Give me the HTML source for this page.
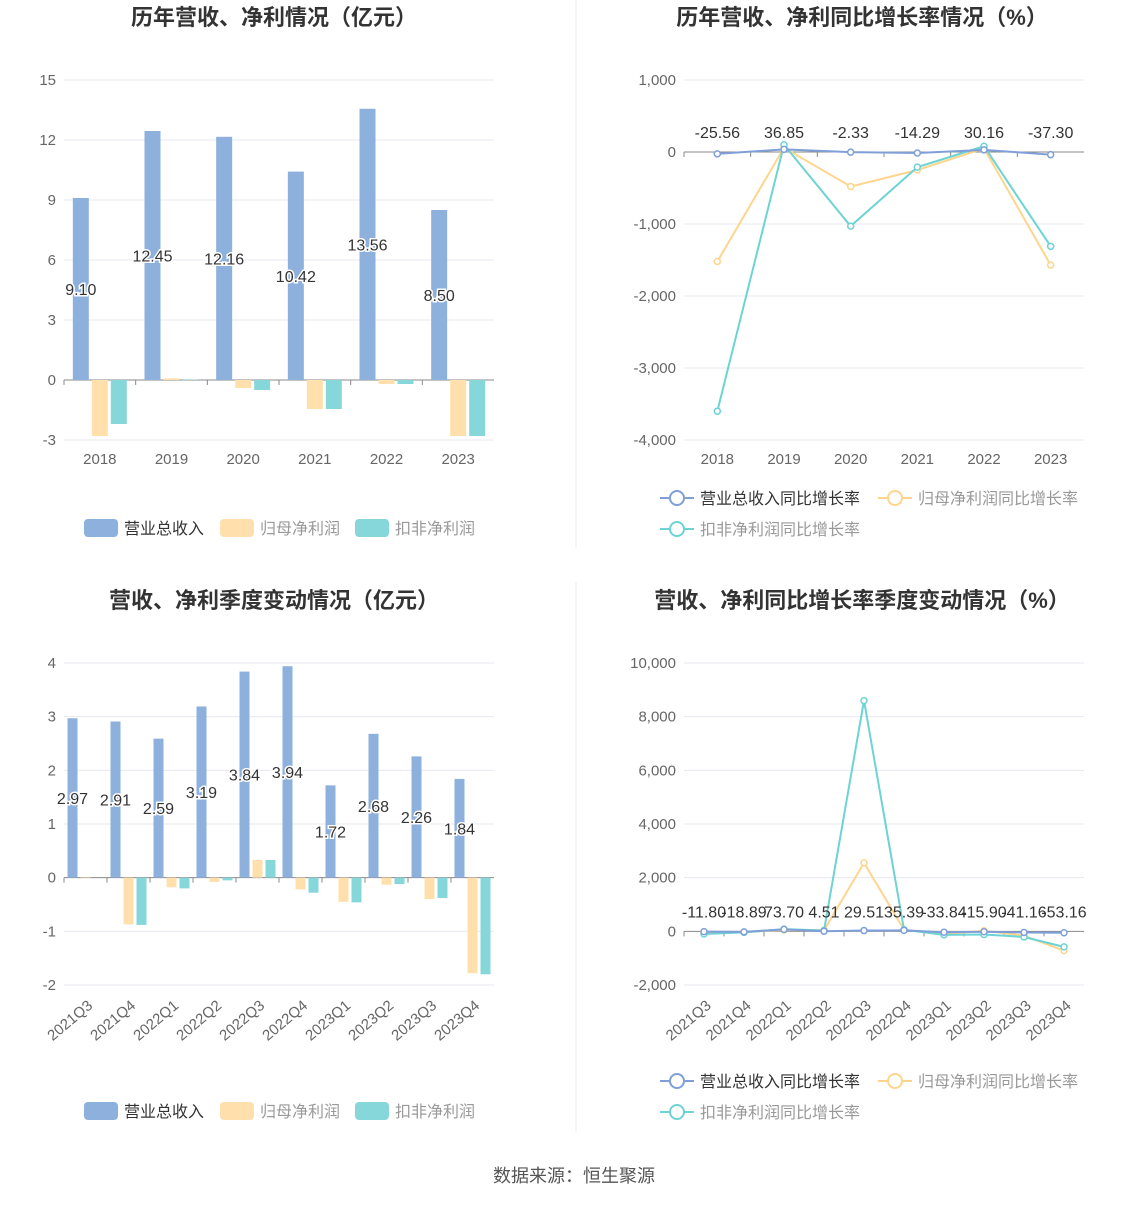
<!DOCTYPE html>
<html><head><meta charset="utf-8"><style>
body{margin:0;background:#fff;font-family:"Liberation Sans","Noto Sans CJK SC",sans-serif;}
svg text{font-family:"Liberation Sans","Noto Sans CJK SC",sans-serif;}
</style></head><body>
<svg id="s" width="1148" height="1202">
<line x1="576" y1="0" x2="576" y2="548" stroke="#eee"/>
<line x1="576" y1="582" x2="576" y2="1132" stroke="#eee"/>
<text x="274" y="25" text-anchor="middle" font-size="22" font-weight="bold" fill="#333">历年营收、净利情况（亿元）</text>
<text x="862" y="25" text-anchor="middle" font-size="22" font-weight="bold" fill="#333">历年营收、净利同比增长率情况（%）</text>
<text x="274" y="608" text-anchor="middle" font-size="22" font-weight="bold" fill="#333">营收、净利季度变动情况（亿元）</text>
<text x="862" y="608" text-anchor="middle" font-size="22" font-weight="bold" fill="#333">营收、净利同比增长率季度变动情况（%）</text>
<text x="574" y="1182" text-anchor="middle" font-size="18" fill="#555">数据来源：恒生聚源</text>
</svg>
<script>
const yearCats=["2018","2019","2020","2021","2022","2023"];
const yearRevenue=[9.10,12.45,12.16,10.42,13.56,8.50];
const yearNetProfit=[-2.8,0.08,-0.4,-1.45,-0.2,-2.8];
const yearDeductProfit=[-2.2,0.02,-0.5,-1.45,-0.2,-2.8];
const yearTicks=[15,12,9,6,3,0,-3];
const yearRevGrowth=[-25.56,36.85,-2.33,-14.29,30.16,-37.30];
const yearNetGrowth=[-1520,60,-480,-250,50,-1570];
const yearDedGrowth=[-3600,100,-1030,-210,80,-1310];
const yearGrowthTicks=[1000,0,-1000,-2000,-3000,-4000];
const qCats=["2021Q3","2021Q4","2022Q1","2022Q2","2022Q3","2022Q4","2023Q1","2023Q2","2023Q3","2023Q4"];
const qRevenue=[2.97,2.91,2.59,3.19,3.84,3.94,1.72,2.68,2.26,1.84];
const qNetProfit=[0.01,-0.87,-0.18,-0.08,0.33,-0.22,-0.45,-0.13,-0.4,-1.78];
const qDeductProfit=[0.0,-0.88,-0.2,-0.05,0.33,-0.28,-0.46,-0.12,-0.38,-1.8];
const qTicks=[4,3,2,1,0,-1,-2];
const qRevGrowth=[-11.80,-18.89,73.70,4.51,29.51,35.39,-33.84,-15.90,-41.16,-53.16];
const qNetGrowth=[-60,-30,50,40,2550,60,-100,20,-160,-720];
const qDedGrowth=[-100,-40,80,30,8600,60,-130,-120,-210,-580];
const qGrowthTicks=[10000,8000,6000,4000,2000,0,-2000];

const S=document.getElementById('s');const NS='http://www.w3.org/2000/svg';
function mk(t,a,txt){const e=document.createElementNS(NS,t);for(const k in a)e.setAttribute(k,a[k]);if(txt!==undefined)e.textContent=txt;S.appendChild(e);return e;}
const C1='#8eb0dc',C2='#ffe0ac',C3='#86d7d9';
function fmt(v){return v.toLocaleString('en-US');}
function axes(x0,x1,yTop,yBot,ticks,cats,rot,prefix){
 const mx=Math.max(...ticks),mn=Math.min(...ticks);
 const y=v=>yTop+(mx-v)/(mx-mn)*(yBot-yTop);
 ticks.forEach(t=>{const g=mk('line',{x1:x0,x2:x1,y1:y(t),y2:y(t),stroke:t===0?'#888':'#e6e8f2'});
 
 const l=mk('text',{x:x0-8,y:y(t)+5,'text-anchor':'end','font-size':15,fill:'#666'},fmt(t));
 });
 const bw=(x1-x0)/cats.length;const x=i=>x0+bw*(i+0.5);
 cats.forEach((c,i)=>{let l;
  if(rot){l=mk('text',{x:x(i)+8,y:y(mn)+22,'text-anchor':'end','font-size':15,fill:'#666',transform:`rotate(-40 ${x(i)+8} ${y(mn)+22})`},c);}
  else l=mk('text',{x:x(i),y:y(mn)+24,'text-anchor':'middle','font-size':15,fill:'#666'},c);
  
  const tk=mk('line',{x1:x0+bw*i,x2:x0+bw*i,y1:y(0),y2:y(0)+5,stroke:'#888'});
  });
 return {x,y,bw};
}
function bars(ax,series,w,gap,labels,prefix,fs){
 const cols=[C1,C2,C3];
 series.forEach((arr,si)=>arr.forEach((v,i)=>{
  const cx=ax.x(i)+(si-1)*(w+gap);const y0=ax.y(0),yv=ax.y(v);
  const r=mk('rect',{x:cx-w/2,y:Math.min(y0,yv),width:w,height:Math.abs(yv-y0),fill:cols[si]});
  
  
  if(si===0&&labels){const l=mk('text',{x:cx,y:(y0+yv)/2+6,'text-anchor':'middle','font-size':fs,fill:'#333',stroke:'#fff','stroke-width':3,'paint-order':'stroke'},v.toFixed(2));
   }
 }));
}
function lines(ax,series,labels,prefix){
 const cols=['#7f9fd8','#ffd58e','#6dd3d3'];
 [1,2,0].forEach(si=>{const arr=series[si];
  const p=mk('polyline',{points:arr.map((v,i)=>ax.x(i)+','+ax.y(v)).join(' '),fill:'none',stroke:cols[si],'stroke-width':2});
  
  arr.forEach((v,i)=>{const c=mk('circle',{cx:ax.x(i),cy:ax.y(v),r:3,fill:'#fff',stroke:cols[si],'stroke-width':1.5});
   });
 });
 series[0].forEach((v,i)=>{const l=mk('text',{x:ax.x(i),y:ax.y(0)-14,'text-anchor':'middle','font-size':16,fill:'#333'},v.toFixed(2));
  });
}
function barLegend(y,prefix){
 [['营业总收入',C1,84],['归母净利润',C2,220],['扣非净利润',C3,355]].forEach(([t,c,x])=>{
  const r=mk('rect',{x:x,y:y-9,width:34,height:18,rx:4,fill:c});
  const l=mk('text',{x:x+40,y:y+6,'font-size':16,fill:t==='营业总收入'?'#333':'#999'},t);});
}
function lineLegend(y,prefix){
 [['营业总收入同比增长率','#7f9fd8',660,y,'#333'],['归母净利润同比增长率','#ffd58e',878,y,'#999'],['扣非净利润同比增长率','#6dd3d3',660,y+31,'#999']].forEach(([t,c,x,yy,tc])=>{
  const g=mk('line',{x1:x,x2:x+34,y1:yy,y2:yy,stroke:c,'stroke-width':2});
  const ci=mk('circle',{cx:x+17,cy:yy,r:7,fill:'#fff',stroke:c,'stroke-width':2});
  const l=mk('text',{x:x+40,y:yy+6,'font-size':16,fill:tc},t);});
}
let a=axes(64,494,80,440,yearTicks,yearCats,false,'annual');
bars(a,[yearRevenue,yearNetProfit,yearDeductProfit],16,3,true,'annual',16);
barLegend(528,'annual');
a=axes(684,1084,80,440,yearGrowthTicks,yearCats,false,'annual-growth');
lines(a,[yearRevGrowth,yearNetGrowth,yearDedGrowth],true,'annual-growth');
lineLegend(498,'annual-growth');
a=axes(64,494,663,985,qTicks,qCats,true,'quarterly');
bars(a,[qRevenue,qNetProfit,qDeductProfit],10,3,true,'quarterly',16);
barLegend(1111,'quarterly');
a=axes(684,1084,663,985,qGrowthTicks,qCats,true,'quarterly-growth');
lines(a,[qRevGrowth,qNetGrowth,qDedGrowth],true,'quarterly-growth');
lineLegend(1081,'quarterly-growth');
</script>
</body></html>
